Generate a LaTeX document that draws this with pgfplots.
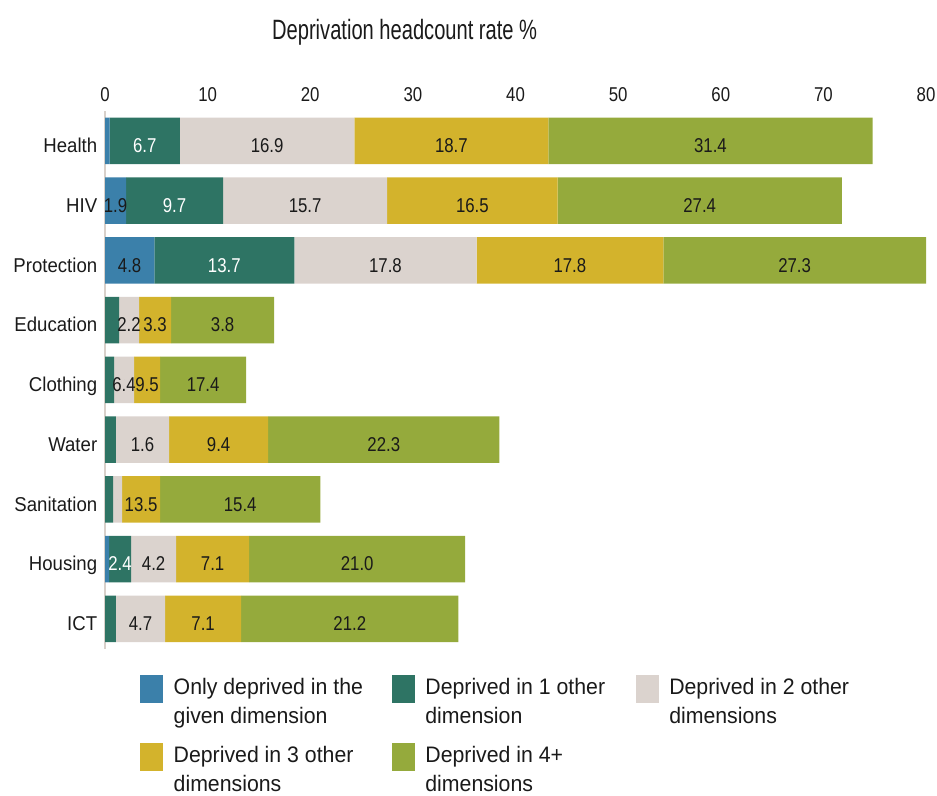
\documentclass[border=0pt]{standalone}
\usepackage{fontspec}
\setmainfont{Liberation Sans}[FakeStretch=0.93]
\newfontfamily\numfont{Liberation Sans}[FakeStretch=0.84]
\newfontfamily\titlefont{Liberation Sans}[FakeStretch=0.72]
\newfontfamily\legfont{Liberation Sans}[FakeStretch=0.95]
\usepackage{pgfplots}
\usepackage{pgfplotstable}
\pgfplotsset{compat=1.18}

\definecolor{cblue}{HTML}{3B80AA}
\definecolor{cdgreen}{HTML}{2E7464}
\definecolor{cgray}{HTML}{DBD3CE}
\definecolor{cyellow}{HTML}{D3B32C}
\definecolor{colive}{HTML}{95AA3C}
\definecolor{cline}{HTML}{D8D0CA}
\definecolor{ctext}{HTML}{1A1A1A}

% segment widths (a..e) and the printed labels (la..le)
\pgfplotstableread{
y a b c d e la lb lc ld le
8 0.45 6.85 17.00 18.90 31.60 {} 6.7 16.9 18.7 31.4
7 2.05 9.45 16.00 16.60 27.70 1.9 9.7 15.7 16.5 27.4
6 4.80 13.65 17.75 18.20 25.60 4.8 13.7 17.8 17.8 27.3
5 0 1.37 1.95 3.12 10.05 {} {} 2.2 3.3 3.8
4 0 0.88 1.95 2.54 8.39 {} {} 6.4 9.5 17.4
3 0 1.07 5.17 9.66 22.54 {} {} 1.6 9.4 22.3
2 0 0.78 0.88 3.71 15.61 {} {} {} 13.5 15.4
1 0.39 2.15 4.39 7.12 21.05 {} 2.4 4.2 7.1 21.0
0 0 1.07 4.78 7.42 21.17 {} {} 4.7 7.1 21.2
}\data

\pgfplotsset{
  box/.style={scale only axis, width=410.5pt, height=268.9pt,
    xmin=0, xmax=80, ymin=-0.5, ymax=8.5},
  sw/.style={legend image code/.code={
      \fill[##1] (0pt,-8.85pt) rectangle (11.35pt,5.35pt);
      \path (0pt,-14.85pt) (0pt,14.85pt);}},
  lbl/.style={only marks, mark=*, mark size=0pt,
    mark options={draw=none, fill=none}},
}

\begin{document}
\begin{tikzpicture}
\begin{axis}[
  box,
  xbar stacked, bar width=23.25pt,
  axis x line*=top, axis y line*=left,
  x axis line style={draw=none},
  y axis line style={draw=cline, line width=0.75pt},
  major tick length=0pt,
  xtick={0,10,...,80},
  ytick={0,...,8},
  yticklabels={ICT,Housing,Sanitation,Water,Clothing,Education,Protection,HIV,Health},
  /pgf/number format/assume math mode=true,
  xticklabel style={font=\numfont\fontsize{10}{12}\selectfont, text=ctext,
    anchor=base, inner sep=0pt, yshift=4.75pt},
  yticklabel style={font=\fontsize{10}{12}\selectfont, text=ctext,
    anchor=base east, inner sep=0pt, xshift=-3.7pt, yshift=-5.85pt},
  title={Deprivation headcount rate \%},
  title style={font=\titlefont\fontsize{13.97}{16}\selectfont, text=ctext,
    at={(axis description cs:0.365,1)}, anchor=base, inner sep=0pt, yshift=29.55pt},
  legend columns=3,
  legend cell align=left,
  legend style={at={(axis description cs:0,0)}, anchor=north west,
    xshift=17.5pt, yshift=-3.2pt, draw=none, fill=none, inner sep=0pt,
    row sep=4.4pt, nodes={inner sep=0pt, text=ctext},
    font=\legfont\fontsize{11.2}{14.5}\selectfont,
    /tikz/every odd column/.append style={column sep=5.3pt},
    /tikz/every even column/.append style={column sep=13pt}},
]
\addplot[fill=cblue, draw=none, sw] table[x=a, y=y]{\data};
\addlegendentry{\parbox[t]{96.2pt}{\strut Only deprived in the\\\strut given dimension}}
\addplot[fill=cdgreen, draw=none, sw] table[x=b, y=y]{\data};
\addlegendentry{\parbox[t]{92.3pt}{\strut Deprived in 1 other\\\strut dimension}}
\addplot[fill=cgray, draw=none, sw] table[x=c, y=y]{\data};
\addlegendentry{\parbox[t]{92pt}{\strut Deprived in 2 other\\\strut dimensions}}
\addplot[fill=cyellow, draw=none, sw] table[x=d, y=y]{\data};
\addlegendentry{\parbox[t]{96.2pt}{\strut Deprived in 3 other\\\strut dimensions}}
\addplot[fill=colive, draw=none, sw] table[x=e, y=y]{\data};
\addlegendentry{\parbox[t]{92.3pt}{\strut Deprived in 4+\\\strut dimensions}}
\coordinate (tl) at (axis description cs:0,1);
\end{axis}

% labels in the middle of each segment, same frame, no stacking
\begin{axis}[
  box, hide axis,
  point meta=explicit symbolic,
  nodes near coords,
  every node near coord/.append style={font=\numfont\fontsize{10}{12}\selectfont,
    text=ctext, anchor=base, inner sep=0pt, yshift=-5.85pt},
]
\addplot[lbl] table[x expr=0.5*\thisrow{a}, y=y, meta=la]{\data};
\addplot[lbl, every node near coord/.append style={text=white}]
  table[x expr=\thisrow{a}+0.5*\thisrow{b}, y=y, meta=lb]{\data};
\addplot[lbl] table[x expr=\thisrow{a}+\thisrow{b}+0.5*\thisrow{c}, y=y, meta=lc]{\data};
\addplot[lbl] table[x expr=\thisrow{a}+\thisrow{b}+\thisrow{c}+0.5*\thisrow{d},
  y=y, meta=ld]{\data};
\addplot[lbl] table[x expr=\thisrow{a}+\thisrow{b}+\thisrow{c}+\thisrow{d}+0.5*\thisrow{e},
  y=y, meta=le]{\data};
\end{axis}
\pgfresetboundingbox
\path[use as bounding box] ([xshift=-52.5pt,yshift=55.55pt]tl)
  rectangle ([xshift=416pt,yshift=-342.45pt]tl);
\end{tikzpicture}
\end{document}
